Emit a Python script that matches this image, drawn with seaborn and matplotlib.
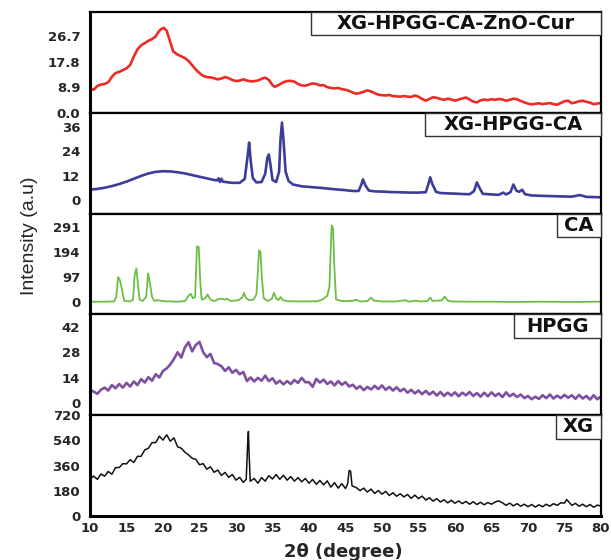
import numpy as np
import matplotlib
matplotlib.use("Agg")
import matplotlib.pyplot as plt
import seaborn as sns
from matplotlib.patches import Rectangle

# ---- data (2theta in degrees, intensity in a.u.) ----
cur_x = [10, 10.5, 11, 11.5, 12, 12.5, 13, 13.5, 14, 14.5, 15, 15.5, 16, 16.5, 17, 17.5, 18, 18.5, 19, 19.3,
         19.7, 20.1, 20.5, 21, 21.4, 22, 22.5, 23, 23.5, 24, 24.5, 25, 25.5, 26, 26.5, 27, 27.5, 28, 28.5, 29,
         29.5, 30, 30.5, 31, 31.5, 32, 32.5, 33, 33.5, 34, 34.5, 35, 35.3, 35.8, 36.5, 37, 37.5, 38, 38.5, 39,
         39.5, 40, 40.5, 41, 41.5, 42, 42.5, 43, 43.5, 44, 44.5, 45, 45.5, 46, 46.5, 47, 47.5, 48, 48.5, 49,
         49.5, 50, 50.5, 51, 51.5, 52, 52.5, 53, 53.5, 54, 54.5, 55, 55.5, 56, 56.5, 57, 57.5, 58, 58.5, 59,
         59.5, 60, 60.5, 61, 61.5, 62, 62.5, 63, 63.5, 64, 64.5, 65, 65.5, 66, 66.5, 67, 67.5, 68, 68.5, 69,
         69.5, 70, 70.5, 71, 71.5, 72, 72.5, 73, 73.5, 74, 74.5, 75, 75.5, 76, 76.5, 77, 77.5, 78, 78.5, 79,
         79.5, 80]
cur_y = [8.4, 8.0, 9.3, 9.8, 10.0, 10.6, 12.5, 13.8, 14.2, 14.8, 15.4, 16.6, 19.5, 22.0, 23.4, 24.2, 25.0, 25.6, 26.5, 27.8,
         29.0, 29.5, 28.5, 24.5, 21.3, 20.2, 19.6, 19.0, 18.0, 16.5, 15.0, 13.8, 12.8, 12.4, 12.3, 12.0, 11.6, 11.9, 12.4, 12.0,
         11.4, 11.0, 11.2, 11.6, 11.2, 10.9, 11.0, 11.2, 11.8, 12.2, 11.4, 9.6, 9.0, 9.6, 10.6, 11.0, 11.1, 10.8, 10.0, 9.5,
         9.4, 9.8, 10.2, 10.0, 9.5, 9.6, 8.9, 8.6, 8.5, 8.6, 8.2, 8.0, 7.6, 7.0, 6.6, 6.9, 7.3, 7.8, 7.4, 6.8,
         6.3, 6.1, 6.0, 6.2, 5.8, 5.7, 5.6, 5.8, 5.6, 5.5, 6.0, 5.6, 4.8, 4.2, 4.8, 5.4, 5.2, 4.8, 4.5, 4.9,
         4.6, 4.2, 4.6, 5.0, 5.3, 4.6, 3.9, 3.6, 4.3, 4.6, 4.4, 4.7, 4.5, 4.8, 4.6, 4.2, 4.5, 4.9, 4.7, 4.1,
         3.6, 3.2, 2.9, 3.1, 3.3, 3.0, 3.2, 3.4, 3.0, 2.8, 3.4, 4.0, 4.2, 3.3, 3.6, 4.0, 4.2, 3.8, 3.5, 3.0,
         3.2, 3.4]

ca3_x = [10, 11, 12, 13, 14, 15, 16, 17, 18, 19, 20, 21, 22, 23, 24, 25, 26, 27, 27.4, 27.6,
         27.8, 28.0, 28.2, 28.6, 29.5, 30.5, 31.2, 31.6, 31.8, 32.0, 32.3, 32.8, 33.5, 34.0, 34.3, 34.5, 34.7, 35.0, 35.5, 35.9,
         36.1, 36.3, 36.5, 36.8, 37.2, 37.8, 39, 40, 41, 42, 43, 44, 45, 46, 46.8, 47.2, 47.4, 47.7, 48.2, 49,
         50, 51, 52, 53, 54, 55, 56, 56.4, 56.6, 56.9, 57.4, 58, 59, 60, 61, 62, 62.6, 63.0, 63.3, 63.8,
         65, 66, 66.6, 67, 67.6, 68.0, 68.4, 68.8, 69.2, 69.6, 70.5, 72, 74, 76, 77.1, 78, 79, 80]
ca3_y = [5.3, 5.6, 6.2, 7.0, 8.0, 9.2, 10.6, 12.0, 13.2, 14.0, 14.3, 14.2, 13.8, 13.2, 12.4, 11.6, 10.8, 10.0, 9.8, 10.8,
         9.0, 10.6, 9.2, 9.0, 8.6, 8.6, 10.5, 22.0, 28.4, 20.0, 11.0, 8.8, 9.0, 13.0, 21.0, 22.5, 18.0, 10.0, 9.0, 14.0,
         30.0, 38.2, 30.0, 14.0, 9.5, 7.8, 6.9, 6.6, 6.3, 6.0, 5.6, 5.3, 5.0, 4.6, 4.6, 8.0, 10.3, 7.5, 4.8, 4.4,
         4.3, 4.1, 4.0, 3.9, 3.8, 3.8, 4.0, 8.5, 11.3, 8.0, 4.2, 3.6, 3.4, 3.3, 3.1, 3.0, 4.5, 8.8, 6.5, 3.2,
         2.9, 2.7, 3.8, 2.9, 4.0, 7.8, 4.8, 4.2, 5.2, 3.0, 2.4, 2.2, 2.0, 1.8, 2.6, 1.7, 1.6, 1.5]

ca_x = [10, 12, 13.3, 13.6, 13.85, 14.1, 14.3, 14.5, 14.7, 15.5, 15.9, 16.1, 16.35, 16.6, 16.8, 17.2, 17.7, 17.95, 18.2, 18.5,
        18.8, 19.3, 20, 21, 22, 23, 23.5, 23.8, 24.1, 24.4, 24.65, 24.9, 25.1, 25.3, 25.8, 26.1, 26.5, 27, 27.6, 28,
        28.4, 28.8, 29.2, 29.8, 30.4, 30.9, 31.1, 31.4, 31.8, 32.4, 32.8, 33.0, 33.15, 33.35, 33.55, 33.8, 34.3, 34.9, 35.2, 35.5,
        35.8, 36.1, 36.4, 37, 38.5, 40, 41.2, 41.8, 42.2, 42.5, 42.8, 42.95, 43.1, 43.3, 43.45, 43.7, 44.2, 45, 45.8, 46.5,
        47, 48, 48.5, 48.9, 50, 51, 52, 53.2, 53.6, 54.6, 55.2, 56.2, 56.6, 56.9, 58.2, 58.6, 59, 59.5, 62, 65,
        68, 72, 76, 80]
ca_y = [2, 2, 3, 20, 97, 85, 60, 30, 5, 3, 10, 100, 131, 60, 10, 5, 20, 111, 75, 20,
        5, 8, 4, 3, 2, 4, 25, 33, 15, 20, 216, 212, 80, 10, 15, 30, 10, 4, 12, 14,
        10, 13, 5, 6, 8, 20, 36, 15, 8, 10, 30, 120, 200, 195, 90, 15, 5, 12, 36, 15,
        8, 20, 8, 4, 3, 3, 4, 10, 18, 25, 60, 180, 296, 285, 150, 12, 6, 4, 5, 9,
        3, 4, 18, 6, 3, 3, 3, 8, 2, 6, 3, 4, 18, 5, 7, 22, 7, 3, 2, 2,
        1, 2, 1, 2]

hpgg_x = [10, 10.5, 11, 11.5, 12, 12.5, 13, 13.5, 14, 14.5, 15, 15.5, 16, 16.5, 17, 17.5, 18, 18.5, 19, 19.5,
          20, 20.5, 21, 21.5, 22, 22.5, 23, 23.5, 24, 24.5, 25, 25.5, 26, 26.5, 27, 27.5, 28, 28.5, 29, 29.5,
          30, 30.5, 31, 31.5, 32, 32.5, 33, 33.5, 34, 34.5, 35, 35.5, 36, 36.5, 37, 37.5, 38, 38.5, 39, 39.5,
          40, 40.5, 41, 41.5, 42, 42.5, 43, 43.5, 44, 44.5, 45, 45.5, 46, 46.5, 47, 47.5, 48, 48.5, 49, 49.5,
          50, 50.5, 51, 51.5, 52, 52.5, 53, 53.5, 54, 54.5, 55, 55.5, 56, 56.5, 57, 57.5, 58, 58.5, 59, 59.5,
          60, 60.5, 61, 61.5, 62, 62.5, 63, 63.5, 64, 64.5, 65, 65.5, 66, 66.5, 67, 67.5, 68, 68.5, 69, 69.5,
          70, 70.5, 71, 71.5, 72, 72.5, 73, 73.5, 74, 74.5, 75, 75.5, 76, 76.5, 77, 77.5, 78, 78.5, 79, 79.5,
          80]
hpgg_y = [7.5, 6.4, 5.2, 7.4, 8.6, 7.0, 10.0, 8.2, 10.6, 8.6, 11.2, 9.2, 12.0, 10.0, 13.3, 11.4, 14.4, 12.4, 16.0, 14.2,
          17.8, 19.2, 21.4, 24.4, 28.1, 25.2, 30.8, 33.6, 28.6, 32.2, 33.8, 28.2, 25.4, 27.2, 22.2, 21.6, 20.4, 17.8, 19.8, 16.8,
          18.4, 16.0, 17.2, 12.2, 14.2, 12.0, 14.0, 12.4, 15.2, 12.2, 13.8, 10.8, 12.4, 10.4, 12.2, 10.6, 12.8, 11.2, 14.0, 11.6,
          11.6, 9.0, 13.4, 11.4, 13.0, 10.6, 12.0, 9.8, 12.2, 10.2, 11.6, 9.2, 10.2, 8.0, 9.4, 7.2, 9.0, 7.6, 9.6, 7.8,
          9.8, 7.4, 9.0, 7.0, 8.8, 6.6, 8.0, 5.8, 7.4, 5.4, 7.0, 5.0, 6.8, 4.8, 6.4, 4.2, 6.2, 4.0, 5.8, 4.2,
          6.0, 3.8, 5.8, 4.4, 6.2, 4.0, 5.6, 3.6, 5.8, 3.8, 6.0, 4.0, 5.4, 3.4, 6.0, 3.8, 5.2, 3.4, 4.8, 2.8,
          4.0, 2.2, 3.6, 2.4, 4.4, 2.8, 4.8, 2.6, 4.2, 2.8, 4.6, 3.0, 4.4, 2.4, 4.6, 2.6, 4.0, 2.0, 4.4, 2.2,
          3.8]

xg_x = [10, 10.5, 11, 11.5, 12, 12.5, 13, 13.5, 14, 14.5, 15, 15.5, 16, 16.5, 17, 17.5, 18, 18.5, 19, 19.5,
        20, 20.5, 21, 21.5, 22, 22.5, 23, 23.5, 24, 24.5, 25, 25.5, 26, 26.5, 27, 27.5, 28, 28.5, 29, 29.5,
        30, 30.5, 31, 31.4, 31.6, 31.7, 31.8, 31.95, 32.5, 33, 33.5, 34, 34.5, 35, 35.5, 36, 36.5, 37, 37.5, 38,
        38.5, 39, 39.5, 40, 40.5, 41, 41.5, 42, 42.5, 43, 43.5, 44, 44.5, 45, 45.3, 45.5, 45.7, 45.9, 46.5, 47,
        47.5, 48, 48.5, 49, 49.5, 50, 50.5, 51, 51.5, 52, 52.5, 53, 53.5, 54, 54.5, 55, 55.5, 56, 56.5, 57,
        57.5, 58, 58.5, 59, 59.5, 60, 60.5, 61, 61.5, 62, 62.5, 63, 63.5, 64, 64.5, 65, 65.5, 66, 66.5, 67,
        67.5, 68, 68.5, 69, 69.5, 70, 70.5, 71, 71.5, 72, 72.5, 73, 73.5, 74, 74.5, 75, 75.3, 75.6, 76, 76.5,
        77, 77.5, 78, 78.5, 79, 79.5, 80]
xg_y = [262, 285, 262, 300, 284, 318, 298, 346, 346, 374, 372, 402, 382, 426, 426, 472, 484, 524, 524, 570,
        542, 580, 534, 558, 494, 484, 456, 436, 412, 404, 366, 374, 334, 351, 312, 328, 290, 311, 276, 296,
        256, 276, 240, 262, 520, 604, 440, 248, 268, 234, 274, 249, 288, 264, 296, 262, 291, 256, 281, 249,
        274, 244, 268, 234, 261, 226, 254, 222, 251, 206, 238, 199, 231, 196, 230, 325, 320, 215, 202, 181,
        199, 171, 192, 161, 182, 156, 176, 146, 166, 141, 159, 136, 154, 126, 149, 124, 142, 114, 130, 106,
        124, 100, 116, 94, 112, 91, 108, 88, 104, 84, 102, 82, 98, 80, 96, 84, 100, 108, 94, 76,
        92, 72, 88, 70, 84, 66, 82, 64, 80, 66, 84, 70, 88, 76, 94, 92, 118, 100, 76, 90,
        70, 84, 66, 82, 62, 78, 70]

x_ticks = [10, 15, 20, 25, 30, 35, 40, 45, 50, 55, 60, 65, 70, 75, 80]

panels = [
    ("XG-HPGG-CA-ZnO-Cur", cur_x, cur_y, "#ee2a24", 1.9, (0, 35), [0, 8.9, 17.8, 26.7], ["0.0", "8.9", "17.8", "26.7"], 0.4325),
    ("XG-HPGG-CA", ca3_x, ca3_y, "#3d3d99", 1.9, (-6.5, 43), [0, 12, 24, 36], ["0", "12", "24", "36"], 0.6556),
    ("CA", ca_x, ca_y, "#6dbe45", 1.3, (-47, 342), [0, 97, 194, 291], ["0", "97", "194", "291"], 0.914),
    ("HPGG", hpgg_x, hpgg_y, "#7e509f", 1.9, (-6.6, 49), [0, 14, 28, 42], ["0", "14", "28", "42"], 0.830),
    ("XG", xg_x, xg_y, "#111111", 1.1, (0, 720), [0, 180, 360, 540, 720], ["0", "180", "360", "540", "720"], 0.912),
]

sns.set_style("white")
plt.rcParams["font.family"] = ["DejaVu Sans"]

fig, axes = plt.subplots(5, 1, figsize=(6.11, 5.6), dpi=100, sharex=True,
                         gridspec_kw={"hspace": 0})
fig.subplots_adjust(left=0.1473, right=0.9836, top=0.9786, bottom=0.0786)

for ax, (name, xs, ys, col, lw, ylim, yt, ytl, box_x) in zip(axes, panels):
    sns.lineplot(x=xs, y=ys, ax=ax, color=col, linewidth=lw, legend=False)
    ax.set_xlim(10, 80)
    ax.set_ylim(*ylim)
    ax.set_yticks(yt)
    ax.set_yticklabels(ytl, fontweight="bold", fontsize=9.5)
    ax.set_ylabel("")
    ax.tick_params(length=0, pad=7)
    for sp in ax.spines.values():
        sp.set_color("black")
        sp.set_linewidth(1.6)
    ax.spines["left"].set_linewidth(2.2)
    # label box at upper right
    ax.add_patch(Rectangle((box_x, 0.767), 1.0 - box_x, 0.233, transform=ax.transAxes,
                           facecolor="white", edgecolor="#333333", linewidth=1.0, clip_on=False, zorder=5))
    ax.text((box_x + 1.0) / 2, 0.767 + 0.233 / 2, name, transform=ax.transAxes, ha="center", va="center",
            fontsize=14, fontweight="bold", color="#111111", zorder=6)

axes[-1].set_xticks(x_ticks)
axes[-1].set_xticklabels([str(t) for t in x_ticks], fontweight="bold", fontsize=9.5)
axes[-1].tick_params(axis="x", pad=4)
axes[-1].set_xlabel("")
axes[-1].spines["bottom"].set_linewidth(2.2)

fig.text(0.049, 1 - 236 / 560, "Intensity (a.u)", rotation=90, ha="center", va="center", fontsize=14,
         family=["Liberation Sans Narrow", "Liberation Sans", "DejaVu Sans"])
fig.text(343 / 611, 1 - 552 / 560, "2θ (degree)", ha="center", va="center", fontsize=13, fontweight="bold")

fig.savefig("out.png", dpi=100)
